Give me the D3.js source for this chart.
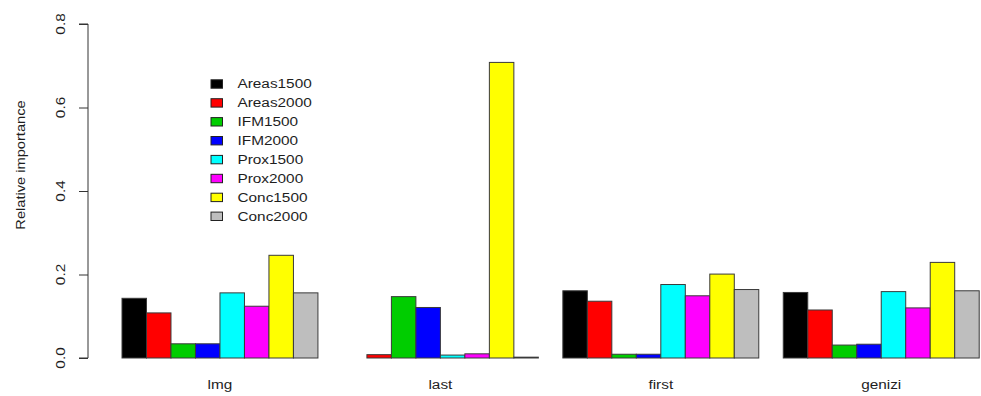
<!DOCTYPE html>
<html>
<head>
<meta charset="utf-8">
<script src="https://cdn.jsdelivr.net/npm/d3@7"></script>
<style>
  html, body { margin: 0; padding: 0; background: #fff; }
  svg { display: block; }
  text { font-family: "Liberation Sans", Arial, sans-serif; fill: #1e1e1e; }
</style>
</head>
<body>
<svg id="chart" width="981" height="396"></svg>
<script>
// Relative importance measures (rows) for each predictor (series)
const methods = ["lmg", "last", "first", "genizi"];
const predictors = ["Areas1500", "Areas2000", "IFM1500", "IFM2000",
                    "Prox1500", "Prox2000", "Conc1500", "Conc2000"];
const lmgValues    = [0.143, 0.108, 0.034, 0.034, 0.156, 0.124, 0.246, 0.156];
const lastValues   = [0.000, 0.008, 0.147, 0.121, 0.007, 0.010, 0.708, 0.002];
const firstValues  = [0.161, 0.136, 0.009, 0.009, 0.176, 0.149, 0.201, 0.164];
const geniziValues = [0.157, 0.115, 0.031, 0.033, 0.159, 0.120, 0.229, 0.161];
const barColors = ["#000000", "#FF0000", "#00CD00", "#0000FF",
                   "#00FFFF", "#FF00FF", "#FFFF00", "#BEBEBE"];
const yTicks = [0, 0.2, 0.4, 0.6, 0.8];
const yTitle = "Relative importance";

const valuesByMethod = [lmgValues, lastValues, firstValues, geniziValues];
const table = methods.map((m, i) => ({
  method: m,
  bars: predictors.map((p, j) => ({ predictor: p, value: valuesByMethod[i][j], color: barColors[j] }))
}));

const svg = d3.select("#chart");
const TEXT_STRETCH = 1.28;

// Scales: one band per method, split into one sub-band per predictor
const x0 = d3.scaleBand()
  .domain(methods)
  .range([122, 979.2])
  .paddingInner(1 / 9)
  .paddingOuter(0);
const x1 = d3.scaleBand()
  .domain(predictors)
  .range([0, x0.bandwidth()])
  .padding(0);
const y = d3.scaleLinear().domain([0, 0.8]).range([358, 24]);

// Bars
const groups = svg.append("g").selectAll("g")
  .data(table)
  .join("g")
  .attr("transform", d => `translate(${x0(d.method)},0)`);

groups.selectAll("rect")
  .data(d => d.bars)
  .join("rect")
  .attr("x", d => x1(d.predictor))
  .attr("y", d => y(d.value))
  .attr("width", x1.bandwidth())
  .attr("height", d => y(0) - y(d.value))
  .attr("fill", d => d.color)
  .attr("stroke", "#3a3a3a")
  .attr("stroke-width", 1);

// Group labels under the bars
svg.append("g").selectAll("text")
  .data(methods)
  .join("text")
  .attr("transform", d => `translate(${x0(d) + x0.bandwidth() / 2},388.5) scale(${TEXT_STRETCH},1)`)
  .attr("text-anchor", "middle")
  .attr("font-size", 12)
  .text(d => d);

// Y axis
const axisX = 88;
const yAxis = svg.append("g").attr("transform", `translate(${axisX},0)`)
  .call(d3.axisLeft(y).tickValues(yTicks).tickSize(9).tickFormat(d3.format(".1f")));
yAxis.select(".domain").attr("stroke", "#333").attr("d", `M-9,${y(0.8)}H0V${y(0)}H-9`);
yAxis.selectAll(".tick line").attr("stroke", "#333");
yAxis.selectAll(".tick text").remove();

svg.append("g").selectAll("text")
  .data(yTicks)
  .join("text")
  .attr("transform", d => `translate(65,${y(d)}) rotate(-90) scale(${TEXT_STRETCH},1)`)
  .attr("text-anchor", "middle")
  .attr("font-size", 12)
  .text(d => d3.format(".1f")(d));

svg.append("text")
  .attr("transform", `translate(24.5,${(y(0) + y(0.8)) / 2 - 26}) rotate(-90) scale(1.22,1)`)
  .attr("text-anchor", "middle")
  .attr("font-size", 12)
  .text(yTitle);

// Legend
const legend = svg.append("g").selectAll("g")
  .data(predictors)
  .join("g")
  .attr("transform", (d, i) => `translate(211,${84 + i * 18.9})`);
legend.append("rect")
  .attr("x", 0).attr("y", -4.2)
  .attr("width", 11.5).attr("height", 8.4)
  .attr("fill", (d, i) => barColors[i])
  .attr("stroke", "#222").attr("stroke-width", 1);
legend.append("text")
  .attr("transform", `translate(26.5,4.3) scale(${TEXT_STRETCH},1)`)
  .attr("font-size", 12)
  .text(d => d);
</script>
</body>
</html>
